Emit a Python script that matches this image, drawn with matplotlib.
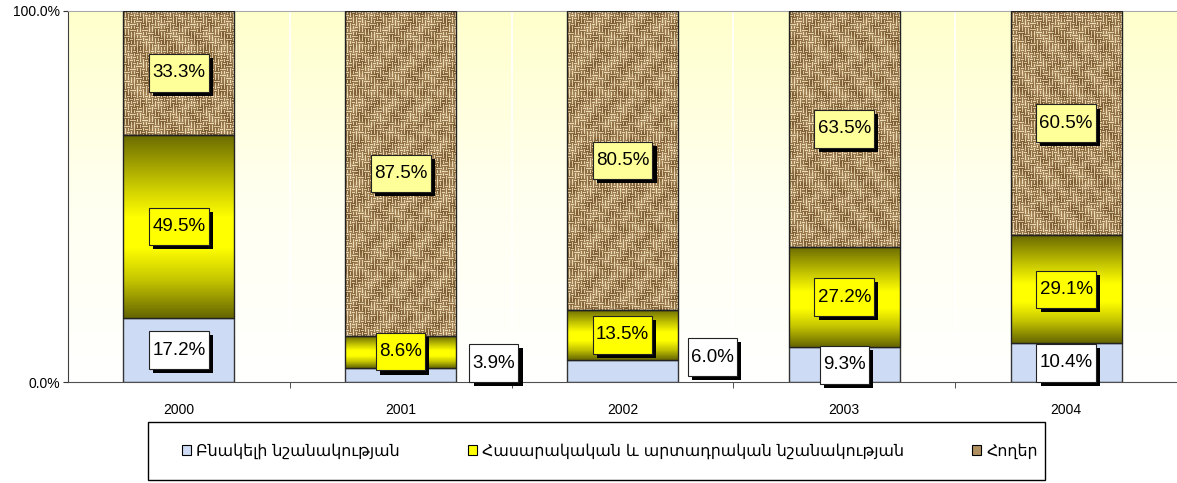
import numpy as np
import matplotlib.pyplot as plt
import matplotlib.patheffects as pe
from matplotlib.colors import LinearSegmentedColormap
from matplotlib.patches import Patch, Rectangle
from matplotlib.path import Path

# --- data (percent shares per year) ---
years = ["2000", "2001", "2002", "2003", "2004"]
residential = [17.2, 3.9, 6.0, 9.3, 10.4]
public_industrial = [49.5, 8.6, 13.5, 27.2, 29.1]
land = [33.3, 87.5, 80.5, 63.5, 60.5]
series_names = ["Բնակելի նշանակության",
                "Հասարակական և արտադրական նշանակության",
                "Հողեր"]

# labels too small for their segment sit to the right of the bar (x offset, y value)
moved_labels = {1: (0.42, 5.1), 2: (0.405, 6.7)}

plt.rcParams['font.family'] = ['Liberation Sans', 'DejaVu Sans']

W, H = 1177, 483
fig = plt.figure(figsize=(W / 100, H / 100), dpi=100)
ax = fig.add_axes([68 / W, 1 - 382 / H, 1 - 68 / W, 371 / H])
x = np.arange(len(years))
bw = 0.5
x0, x1 = -0.5, len(years) - 0.5

# --- background: pale yellow fading to white ---
bg = LinearSegmentedColormap.from_list("bg", ["#ffffff", "#fffff0", "#ffffcc"])
ax.imshow(np.linspace(1, 0, 256).reshape(-1, 1), extent=(x0, x1, 0, 100),
          aspect="auto", cmap=bg, zorder=0)
for b in np.arange(0.5, len(years) - 0.5):
    ax.axvline(b, color="white", lw=1.2, zorder=0.5)

# --- burlap-like texture for the top segment ---
yy, xx = np.mgrid[0:372, 0:1110]
cell = 3
bi, bj = yy // cell, xx // cell
horiz = ((bi * 7 + bj * 13 + (bi // 3) * (bj // 2)) % 5) < 2
thread = np.where(horiz, np.sin(np.pi * (yy % cell + 0.5) / cell),
                  np.sin(np.pi * (xx % cell + 0.5) / cell))
mottle = 0.5 + 0.25 * np.sin(xx / 5.3 + np.cos(yy / 3.1)) * np.cos(yy / 4.3 + np.sin(xx / 2.7))
tex = 0.72 * thread + 0.28 * mottle
burlap = LinearSegmentedColormap.from_list(
    "burlap", ["#7c5c32", "#a88a5e", "#c4a87c", "#dcc59c", "#efe0bc"])

olive = LinearSegmentedColormap.from_list(
    "olive", [(0, "#6a6a00"), (0.3, "#d0d000"), (0.45, "#ffff00"),
              (0.62, "#ffff00"), (0.8, "#c4c400"), (1, "#666600")])

bottoms_mid = np.array(residential)
bottoms_top = bottoms_mid + np.array(public_industrial)

ax.bar(x, residential, bw, color="#cddbf4", edgecolor="#333333", lw=1, zorder=2)
for i in x:
    # middle segment: vertical olive-yellow gradient
    ax.imshow(np.linspace(0, 1, 128).reshape(-1, 1),
              extent=(i - bw / 2, i + bw / 2, bottoms_mid[i], bottoms_top[i]),
              aspect="auto", cmap=olive, zorder=2)
    # top segment: texture clipped to bar
    im = ax.imshow(tex, extent=(x0, x1, 0, 100), aspect="auto", cmap=burlap,
                   interpolation="nearest", zorder=2)
    clip = Rectangle((i - bw / 2, bottoms_top[i]), bw, land[i], transform=ax.transData)
    im.set_clip_path(clip)
ax.bar(x, public_industrial, bw, bottom=bottoms_mid, facecolor="none",
       edgecolor="#222222", lw=1, zorder=3)
ax.bar(x, land, bw, bottom=bottoms_top, facecolor="none",
       edgecolor="#222222", lw=1, zorder=3)


# --- data labels: boxed, with black drop shadow ---
def label_box(x0, y0, width, height, mutation_size):
    px, py = 0.17 * mutation_size, 0.55 * mutation_size
    return Path([(x0 - px, y0 - py), (x0 + width + px, y0 - py),
                 (x0 + width + px, y0 + height + py), (x0 - px, y0 + height + py),
                 (x0 - px, y0 - py)], closed=True)


shadow = [pe.SimplePatchShadow(offset=(3, -3), shadow_rgbFace="black", alpha=1),
          pe.Normal()]


def add_label(xp, yp, val, fc):
    t = ax.text(xp, yp, f"{val:.1f}%", ha="center", va="center", fontsize=13.5,
                color="black", zorder=6,
                bbox=dict(boxstyle=label_box, fc=fc, ec="#222222", lw=0.8))
    t.get_bbox_patch().set_path_effects(shadow)


for i in x:
    if i in moved_labels:
        dx, yv = moved_labels[i]
        add_label(i + dx, yv, residential[i], "white")
    else:
        add_label(i, residential[i] / 2, residential[i], "white")
    add_label(i, bottoms_mid[i] + public_industrial[i] / 2, public_industrial[i], "#ffff00")
    add_label(i, bottoms_top[i] + land[i] / 2, land[i], "#ffff99")

# --- axes styling ---
ax.set_xlim(x0, x1)
ax.set_ylim(0, 100)
ax.set_yticks([0, 100], ["0.0%", "100.0%"], fontsize=10)
ax.set_xticks(x, years, fontsize=10)
ax.set_xticks(np.arange(0.5, len(years) - 0.5), minor=True)
ax.tick_params(axis="x", which="major", length=0, pad=15)
ax.tick_params(axis="x", which="minor", length=4, color="#333333")
ax.tick_params(axis="y", length=3.5, pad=2, color="#333333")
ax.spines["right"].set_visible(False)
ax.spines["top"].set_color("#a8a8a8")
ax.spines["left"].set_color("#404040")
ax.spines["bottom"].set_color("#505050")

# --- legend with its own frame ---
handles = [Patch(fc="#cddbf4", ec="black", lw=0.8),
           Patch(fc="#ffff00", ec="black", lw=0.8),
           Patch(fc="#b09060", ec="black", lw=0.8)]
fig.add_artist(Rectangle((148 / W, 3 / H), 897 / W, 58 / H, transform=fig.transFigure,
                         fill=False, ec="black", lw=1))
fig.legend(handles, series_names, loc="center left", bbox_to_anchor=(174 / W, 1 - 451 / H),
           ncol=3, frameon=False, handlelength=0.55, handleheight=0.6, handletextpad=0.35,
           columnspacing=4.3, borderpad=0, prop={"family": "DejaVu Sans", "size": 11.4})

fig.savefig("out.png", dpi=100)
